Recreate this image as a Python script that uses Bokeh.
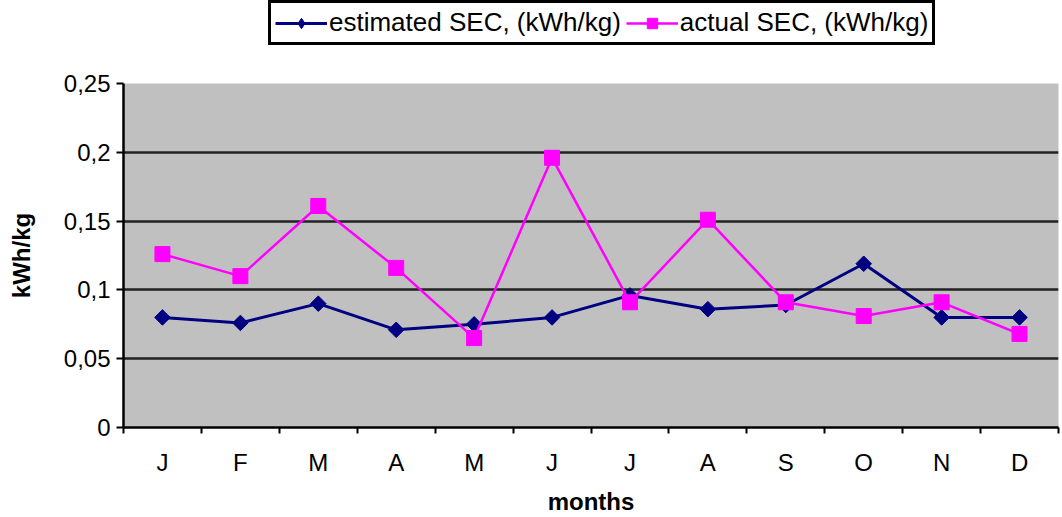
import math
from bokeh.plotting import figure
from bokeh.layouts import column
from bokeh.models import FixedTicker, Legend, LegendItem, Range1d
from bokeh.embed import file_html
from bokeh.resources import INLINE

months = ["J", "F", "M", "A", "M", "J", "J", "A", "S", "O", "N", "D"]
estimated = [0.080, 0.076, 0.090, 0.071, 0.075, 0.080, 0.096, 0.086, 0.089, 0.119, 0.080, 0.080]
actual = [0.126, 0.110, 0.161, 0.116, 0.065, 0.196, 0.091, 0.151, 0.091, 0.081, 0.091, 0.068]
y_ticks = [0, 0.05, 0.1, 0.15, 0.2, 0.25]
y_tick_labels = ["0", "0,05", "0,1", "0,15", "0,2", "0,25"]
est_label = "estimated SEC, (kWh/kg)"
act_label = "actual SEC, (kWh/kg)"

xs = [i + 0.5 for i in range(len(months))]
FONT = "Liberation Sans"
EST_C = "#000080"
ACT_C = "#FF00FF"
W = 1060
LEG_H = 50
FRAME_LEFT = 123

# ---------- main chart ----------
p = figure(width=W, height=517 - LEG_H, output_backend="svg", toolbar_location=None,
           x_range=Range1d(0, len(months)), y_range=Range1d(0, 0.25),
           min_border_left=FRAME_LEFT, min_border_right=2, min_border_top=83 - LEG_H,
           min_border_bottom=10)
p.border_fill_color = "white"
p.outline_line_color = None
p.background_fill_color = "#C0C0C0"

p.line(xs, estimated, line_color=EST_C, line_width=3)
p.scatter(xs, estimated, marker="square", angle=math.pi / 4, size=11,
          fill_color=EST_C, line_color=EST_C)
p.line(xs, actual, line_color=ACT_C, line_width=2.5)
p.scatter(xs, actual, marker="square", size=15, fill_color=ACT_C, line_color=ACT_C)

# x axis
p.xaxis.ticker = FixedTicker(ticks=xs, minor_ticks=list(range(len(months) + 1)))
p.xaxis.major_label_overrides = {x: m for x, m in zip(xs, months)}
p.xaxis.major_tick_out = 0
p.xaxis.major_tick_in = 0
p.xaxis.minor_tick_out = 6
p.xaxis.minor_tick_in = 0
p.xaxis.minor_tick_line_color = "black"
p.xaxis.minor_tick_line_width = 2
p.xaxis.axis_line_width = 2.5
p.xaxis.axis_line_color = "black"
p.xaxis.major_label_standoff = 15
p.xaxis.axis_label = "months"
p.xaxis.axis_label_standoff = 9

# y axis
p.yaxis.ticker = FixedTicker(ticks=y_ticks)
p.yaxis.major_label_overrides = {t: s for t, s in zip(y_ticks, y_tick_labels)}
p.yaxis.major_tick_out = 7
p.yaxis.major_tick_in = 0
p.yaxis.minor_tick_out = 0
p.yaxis.minor_tick_in = 0
p.yaxis.major_tick_line_width = 2
p.yaxis.axis_line_width = 2.5
p.yaxis.axis_line_color = "black"
p.yaxis.major_label_standoff = 6
p.yaxis.axis_label = "kWh/kg"
p.yaxis.axis_label_standoff = 26

for ax in (p.xaxis, p.yaxis):
    ax.major_label_text_font = FONT
    ax.major_label_text_font_size = "24px"
    ax.major_label_text_color = "black"
    ax.axis_label_text_font = FONT
    ax.axis_label_text_font_size = "24px"
    ax.axis_label_text_font_style = "bold"
    ax.axis_label_text_color = "black"

p.xgrid.grid_line_color = None
p.ygrid.ticker = FixedTicker(ticks=y_ticks)
p.ygrid.grid_line_color = "#222222"
p.ygrid.grid_line_width = 2.5

# ---------- legend strip (its ranges keep the proxy series out of view) ----------
lf = figure(width=W, height=LEG_H, output_backend="svg", toolbar_location=None,
            x_range=Range1d(-20, -19), y_range=Range1d(-20, -19),
            min_border_left=0, min_border_right=0, min_border_top=0, min_border_bottom=0)
lf.axis.visible = False
lf.grid.visible = False
lf.outline_line_color = None
lf.background_fill_color = "white"
lf.border_fill_color = "white"

e_line = lf.line(xs, estimated, line_color=EST_C, line_width=3)
e_mark = lf.scatter(xs, estimated, marker="diamond", size=14,
                    fill_color=EST_C, line_color=EST_C)
a_line = lf.line(xs, actual, line_color=ACT_C, line_width=2.5)
a_mark = lf.scatter(xs, actual, marker="square", size=15, fill_color=ACT_C, line_color=ACT_C)

legend = Legend(items=[LegendItem(label=est_label, renderers=[e_line, e_mark]),
                       LegendItem(label=act_label, renderers=[a_line, a_mark])],
                orientation="horizontal", location=(268 - FRAME_LEFT, LEG_H - 45))
legend.label_text_font = FONT
legend.label_text_font_size = "26px"
legend.label_text_color = "black"
legend.border_line_color = "black"
legend.border_line_width = 3
legend.border_line_alpha = 1
legend.background_fill_color = "white"
legend.background_fill_alpha = 1
legend.glyph_width = 52
legend.glyph_height = 26
legend.label_standoff = 2
legend.spacing = 5
legend.padding = 4
legend.margin = 0
legend.label_height = 25
lf.add_layout(legend, "center")

layout = column(lf, p, spacing=0)
open("out.html", "w").write(file_html(layout, INLINE))
